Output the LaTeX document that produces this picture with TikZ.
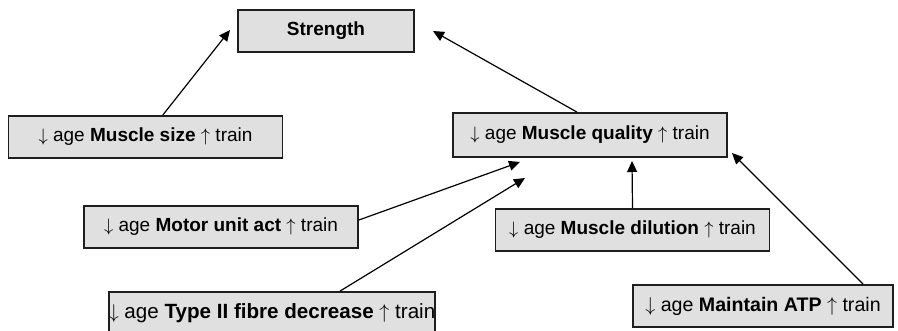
\documentclass[tikz,border=0pt]{standalone}
\usepackage{fontspec}
\setmainfont{Liberation Sans}
\usetikzlibrary{arrows.meta}
\definecolor{BoxFill}{RGB}{224,224,224}
\definecolor{BoxLine}{RGB}{30,30,30}
\newcommand{\factor}[1]{$\downarrow$ age \textbf{#1} $\uparrow$ train}
\tikzset{
  flow/.style={-{Triangle[length=5.5pt,width=5pt]},line width=0.6pt,draw=black},
  box/.style={draw=BoxLine,fill=BoxFill,line width=0.9pt,inner sep=0pt,
    minimum width=137pt,minimum height=21pt,align=center,
    font=\fontsize{9.5}{11}\selectfont}
}
\begin{document}
\begin{tikzpicture}[x=0.5pt,y=-0.5pt]
  \useasboundingbox (0,0) rectangle (898,331);
  \node[box,minimum width=88pt,font=\fontsize{9.5}{11}\selectfont\bfseries] (strength) at (326,31) {Strength};

  \node[box] (size) at (145.5,137) {\factor{Muscle size}};
  \node[box,minimum height=22pt] (quality) at (590,135) {\factor{Muscle quality}};

  \node[box] (motor) at (221,227) {\factor{Motor unit act}};
  \node[box] (dilution) at (632.5,230) {\factor{Muscle dilution}};
  \node[box,minimum width=161pt,font=\fontsize{10.3}{12}\selectfont] (typeII) at (272,313) {\factor{Type II fibre decrease}};
  \node[box,minimum width=130pt,font=\fontsize{9.8}{11}\selectfont] (atp) at (763,306) {\factor{Maintain ATP}};

  % free arrow ends
  \coordinate (tipsize) at (230,30);
  \coordinate (tipquality) at (433,31);
  \coordinate (tipmotor) at (520,162);
  \coordinate (tiptype) at (525,178);
  \coordinate (tipdilution) at (632,161);
  \coordinate (tipatp) at (732,153);

  \draw[flow] (size) -- (tipsize);
  \draw[flow] ([xshift=-6.5pt]quality.north) -- (tipquality);
  \draw[flow] ([yshift=3.5pt]motor.east) -- (tipmotor);
  \draw[flow] ([xshift=34pt]typeII.north) -- (tiptype);
  \draw[flow] (dilution.north) -- (tipdilution);
  \draw[flow] ([xshift=50pt]atp.north) -- (tipatp);
\end{tikzpicture}
\end{document}
